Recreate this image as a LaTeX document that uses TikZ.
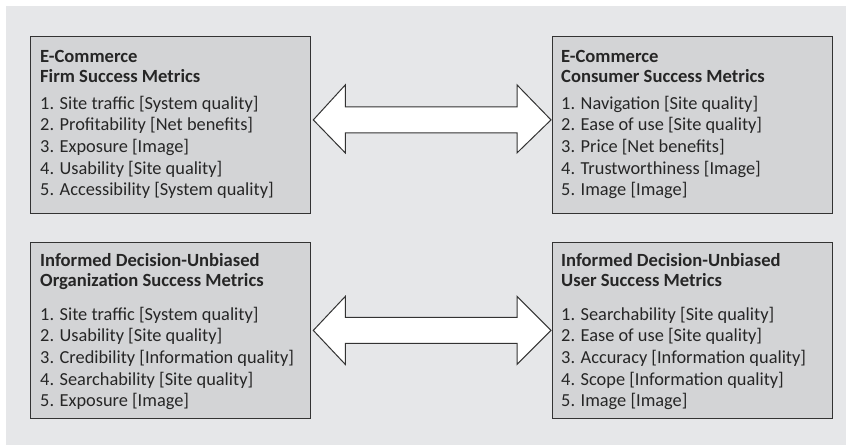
\documentclass[tikz,border=0pt]{standalone}
\usepackage{fontspec}
\setmainfont{Carlito}
\usetikzlibrary{calc}
\definecolor{bgc}{HTML}{E6E7E9}
\definecolor{boxfill}{HTML}{D3D4D6}
\definecolor{boxline}{HTML}{333333}
\tikzset{
  box/.style={draw=boxline, fill=boxfill, line width=1.3pt, minimum width=280pt, minimum height=176.5pt, anchor=north west, inner sep=0pt},
  head/.style={anchor=base west, inner sep=0pt, font=\bfseries\fontsize{18.6}{20}\selectfont, text=black!85},
  items/.style={anchor=base west, inner sep=0pt, font=\fontsize{18.35}{21.7}\selectfont, text=black!85},
  bigarrow/.style={draw=boxline, fill=white, line width=1pt, line join=miter}
}
\newcommand{\lines}[1]{\parbox[t]{270pt}{\raggedright #1}}
\begin{document}
\begin{tikzpicture}[x=1pt,y=1pt]
\useasboundingbox (0,0) rectangle (846,-445);
\fill[bgc] (6,-6) rectangle (846,-445);

\node[box] (b1) at (30,-36) {};
\node[box] (b2) at (551.5,-36) {};
\node[box] (b3) at (30,-241.5) {};
\node[box] (b4) at (551.5,-241.5) {};

\node[head] (h1) at (40,-62) {\lines{E-Commerce\\Firm Success Metrics}};
\node[items] (l1) at (40,-109) {\lines{1. Site traffic [System quality]\\2. Profitability [Net benefits]\\3. Exposure [Image]\\4. Usability [Site quality]\\5. Accessibility [System quality]}};

\node[head] (h2) at (561,-62) {\lines{E-Commerce\\Consumer Success Metrics}};
\node[items] (l2) at (561,-109) {\lines{1. Navigation [Site quality]\\2. Ease of use [Site quality]\\3. Price [Net benefits]\\4. Trustworthiness [Image]\\5. Image [Image]}};

\node[head] (h3) at (40,-266) {\lines{Informed Decision-Unbiased\\Organization Success Metrics}};
\node[items] (l3) at (40,-320) {\lines{1. Site traffic [System quality]\\2. Usability [Site quality]\\3. Credibility [Information quality]\\4. Searchability [Site quality]\\5. Exposure [Image]}};

\node[head] (h4) at (561,-266) {\lines{Informed Decision-Unbiased\\User Success Metrics}};
\node[items] (l4) at (561,-320) {\lines{1. Searchability [Site quality]\\2. Ease of use [Site quality]\\3. Accuracy [Information quality]\\4. Scope [Information quality]\\5. Image [Image]}};

\path (b1.east) ++(2,5) coordinate (t1);
\path (b2.west) ++(-0.5,5) coordinate (t2);
\draw[bigarrow] (t1) -- ($(t1)+(32,35)$) -- ($(t1)+(32,13)$) -- ($(t2)+(-34,13)$) -- ($(t2)+(-34,35)$) -- (t2)
  -- ($(t2)+(-34,-33)$) -- ($(t2)+(-34,-13)$) -- ($(t1)+(32,-13)$) -- ($(t1)+(32,-33)$) -- cycle;

\path (b3.east) ++(2,0) coordinate (t3);
\path (b4.west) ++(-0.5,0) coordinate (t4);
\draw[bigarrow] (t3) -- ($(t3)+(32,34)$) -- ($(t3)+(32,13)$) -- ($(t4)+(-34,13)$) -- ($(t4)+(-34,34)$) -- (t4)
  -- ($(t4)+(-34,-34)$) -- ($(t4)+(-34,-13)$) -- ($(t3)+(32,-13)$) -- ($(t3)+(32,-34)$) -- cycle;
\end{tikzpicture}
\end{document}
